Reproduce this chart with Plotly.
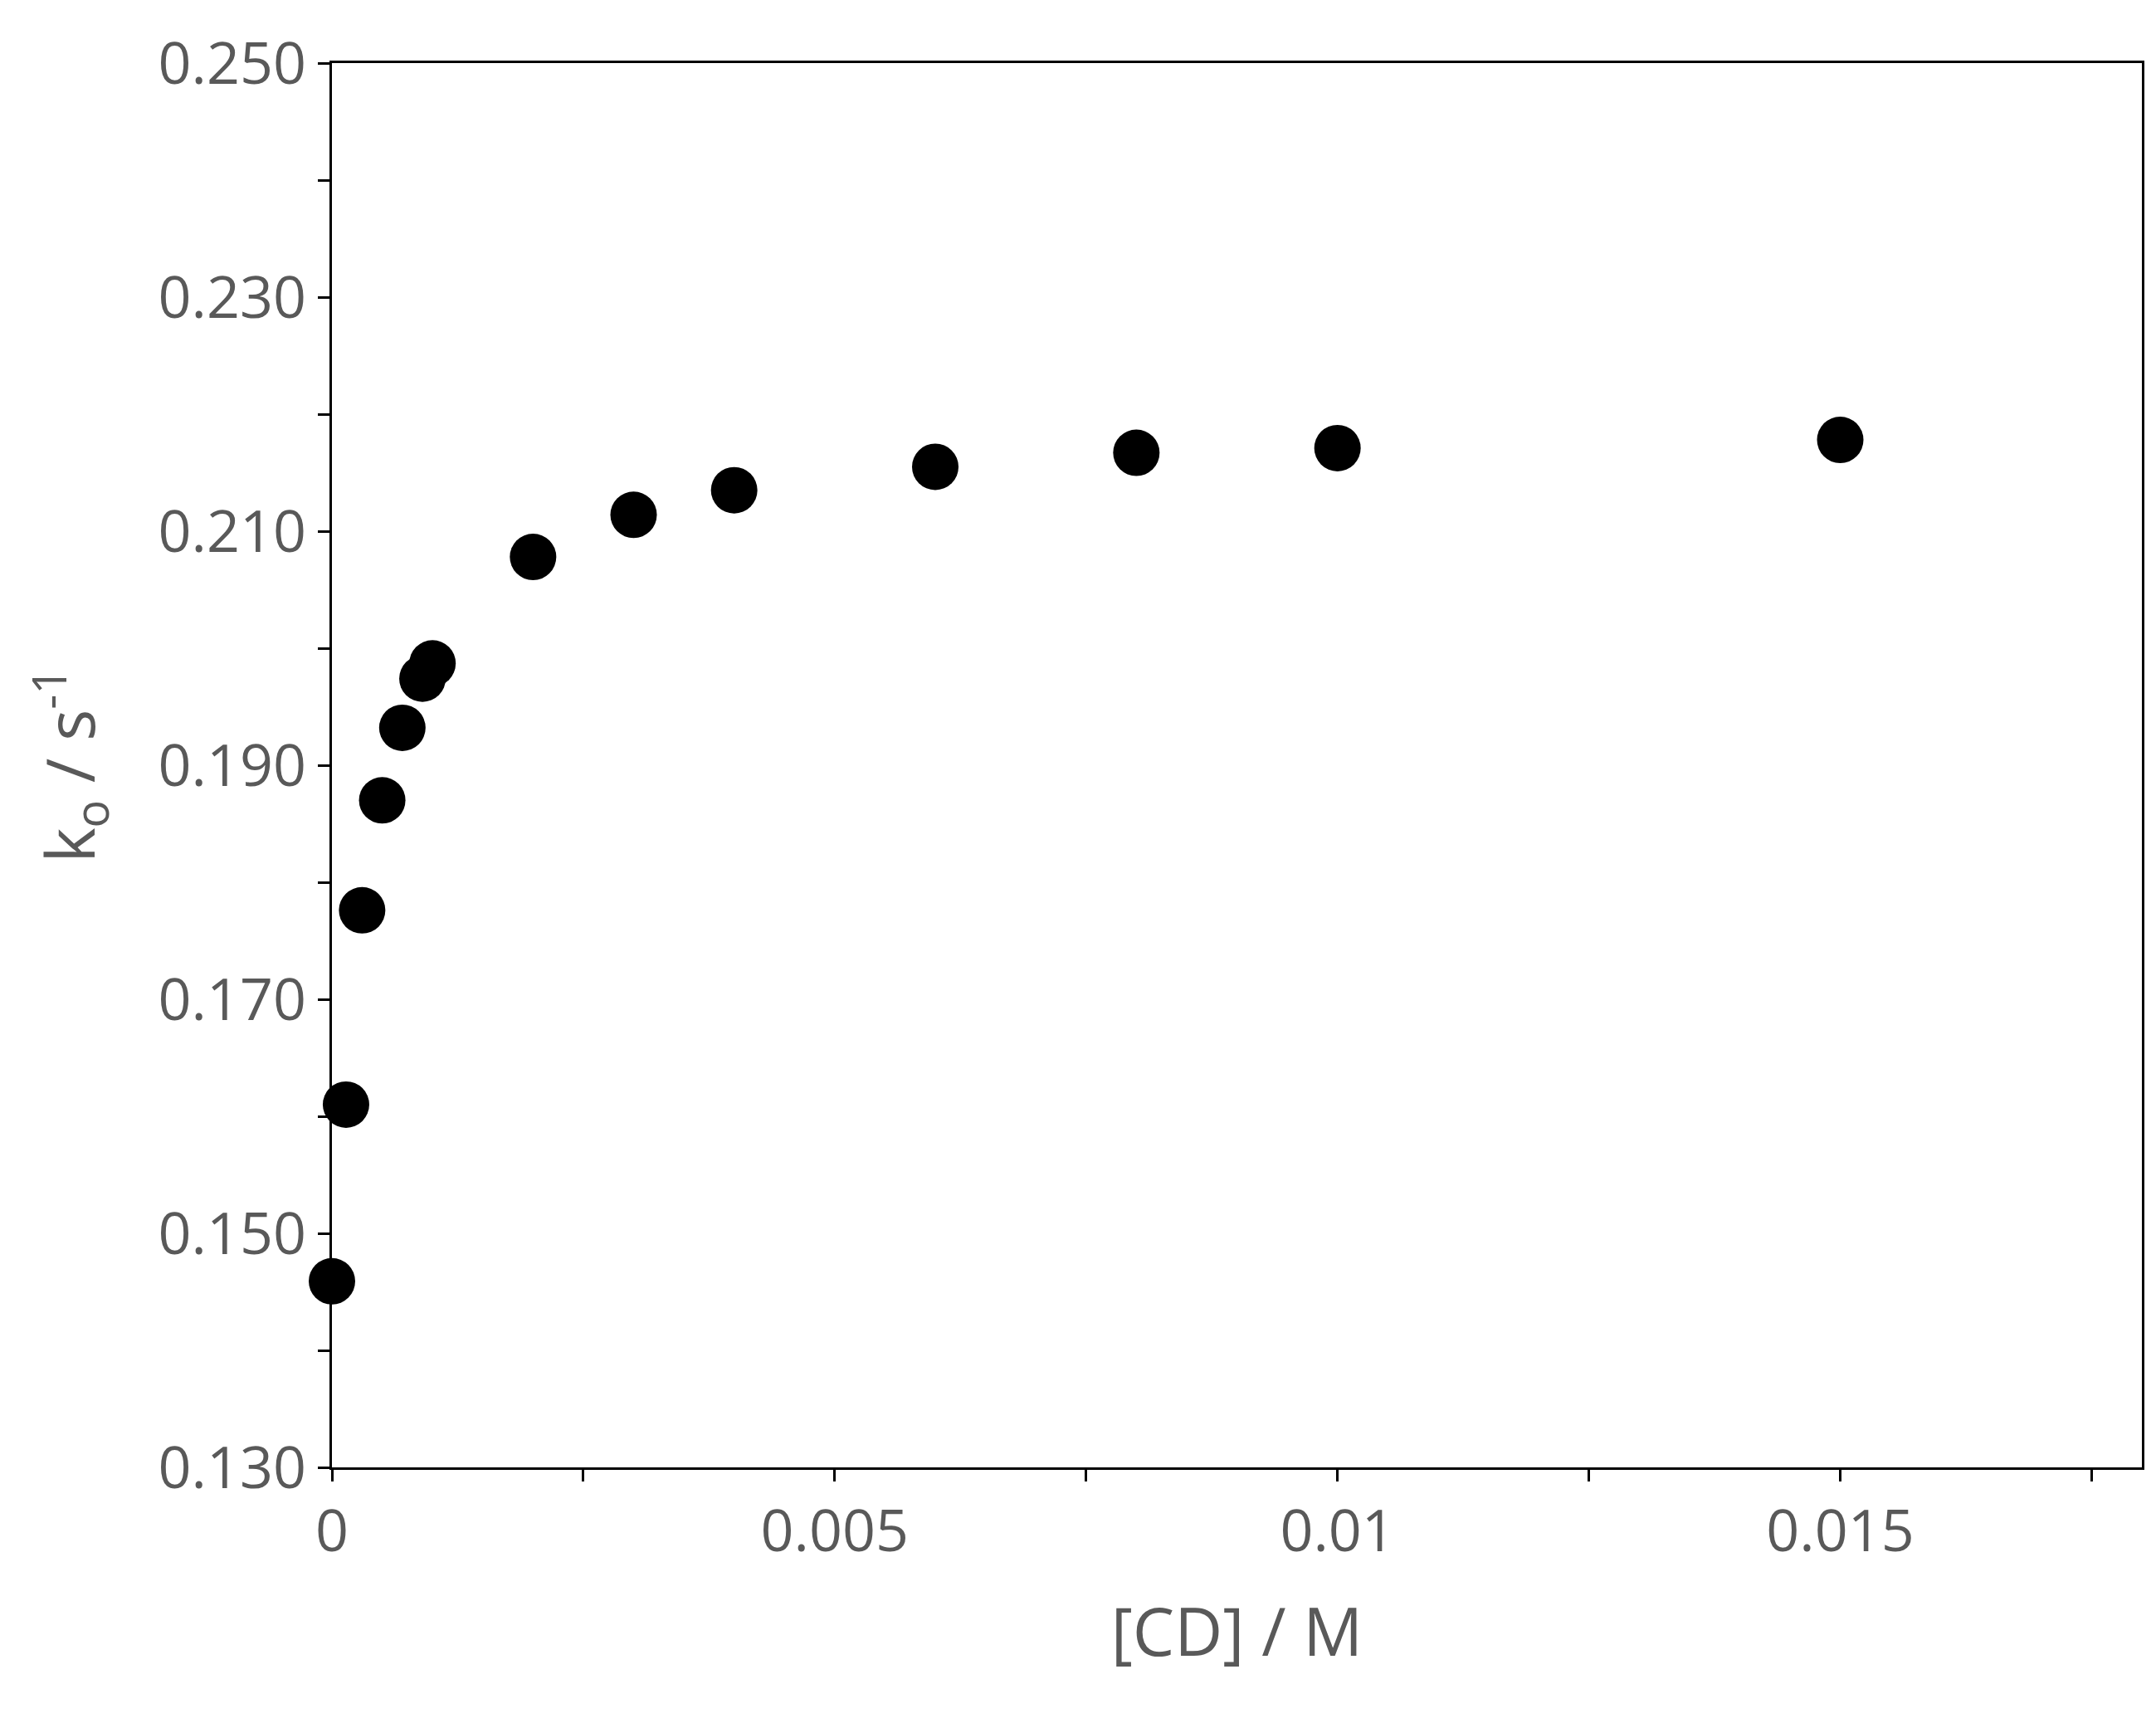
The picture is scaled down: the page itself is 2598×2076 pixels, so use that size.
import plotly.graph_objects as go

cd = [0, 0.00014, 0.0003, 0.0005, 0.0007, 0.0009, 0.001, 0.002, 0.003, 0.004, 0.006, 0.008, 0.01, 0.015]
ko = [0.1459, 0.1610, 0.1776, 0.1870, 0.1932, 0.1974, 0.1987, 0.2078, 0.2114, 0.2135, 0.2155, 0.2167, 0.2171, 0.2178]
xticks = [0, 0.005, 0.01, 0.015]
xlabels = ["0", "0.005", "0.01", "0.015"]
yticks = [0.13, 0.15, 0.17, 0.19, 0.21, 0.23, 0.25]
ylabels = ["0.130", "0.150", "0.170", "0.190", "0.210", "0.230", "0.250"]

fig = go.Figure(go.Scatter(x=cd, y=ko, mode="markers",
                           marker=dict(color="black", size=56), cliponaxis=False))
gray = "#595959"
fig.update_layout(
    width=2598, height=2076, plot_bgcolor="white", paper_bgcolor="white",
    margin=dict(l=392, r=25, t=68, b=316), showlegend=False,
    font=dict(family="Open Sans", color=gray),
)
fig.update_xaxes(range=[0, 0.018], tickvals=xticks, ticktext=xlabels,
                 ticks="outside", ticklen=14, tickwidth=3, tickcolor="black",
                 minor=dict(dtick=0.0025, tick0=0, ticks="outside", ticklen=14, tickwidth=3, tickcolor="black"),
                 showline=True, linecolor="black", linewidth=3, mirror=True, showgrid=False, zeroline=False,
                 tickfont=dict(size=70, color=gray),
                 title=dict(text="[CD] / M", font=dict(size=80, color=gray), standoff=50))
fig.update_yaxes(range=[0.13, 0.25], tickvals=yticks, ticktext=ylabels,
                 ticks="outside", ticklen=14, tickwidth=3, tickcolor="black",
                 minor=dict(dtick=0.01, tick0=0.13, ticks="outside", ticklen=14, tickwidth=3, tickcolor="black"),
                 showline=True, linecolor="black", linewidth=3, mirror=True, showgrid=False, zeroline=False,
                 tickfont=dict(size=70, color=gray),
                 title=dict(text="k<sub>o</sub> / s<sup>-1</sup>", font=dict(size=80, color=gray), standoff=50))
fig.write_html("out.html")
